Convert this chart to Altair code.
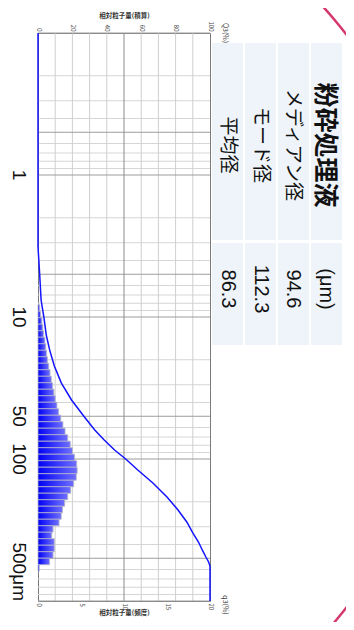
import math
import altair as alt
import pandas as pd

# ---------------- data ----------------
# histogram channels: centre particle size (um) and frequency q3 (%)
bar_size = [8.64, 9.60, 10.67, 11.86, 13.17, 14.64, 16.27, 18.07, 20.08, 22.31,
            24.79, 27.55, 30.61, 34.01, 37.79, 41.99, 46.66, 51.84, 57.60, 64.00,
            71.12, 79.02, 87.80, 97.57, 108.4, 120.4, 133.8, 148.7, 165.2, 183.6,
            204.0, 226.7, 251.9, 279.9, 311.0, 345.6, 384.0, 426.6, 474.1, 526.7,
            585.2]
bar_q3 = [0.2, 0.3, 0.45, 0.55, 0.65, 0.8, 0.9, 1.0, 1.1, 1.25,
          1.4, 1.55, 1.7, 1.85, 2.0, 2.2, 2.4, 2.65, 2.9, 3.15,
          3.45, 3.75, 4.0, 4.25, 4.5, 4.55, 4.45, 4.15, 3.8, 3.45,
          3.1, 2.85, 2.7, 2.45, 1.75, 1.6, 1.9, 1.9, 1.75, 1.35,
          0.15]

# cumulative curve Q3 (%)
cum_size = [0.1, 3.2, 5.06, 7.59, 10.2, 13.39, 17.1, 22.14, 29.2, 38.41, 50.6,
            62.48, 73.5, 86.44, 100, 119.5, 147.6, 185.2, 228.6, 277.8, 331.7,
            384.1, 437, 489.9, 531, 567, 1000]
cum_Q3 = [0, 0, 1.0, 1.8, 3.5, 4.8, 6.8, 9.5, 13.6, 19.5, 27,
          33, 38.5, 44.5, 51, 58, 66.8, 75, 81.4, 86.5, 90,
          93.3, 95.5, 97.6, 99.2, 100, 100]

# axes
size_ticks = [0.1, 0.5, 1, 5, 10, 50, 100, 500, 1000]
size_minor = [0.2, 0.3, 0.4, 0.6, 0.7, 0.8, 0.9,
              2, 3, 4, 6, 7, 8, 9,
              20, 30, 40, 60, 70, 80, 90,
              200, 300, 400, 600, 700, 800, 900]
Q3_ticks = [0, 20, 40, 60, 80, 100]
Q3_grid = [10, 20, 30, 40, 60, 70, 80, 90]
Q3_major = [50]
q3_ticks = [0, 5, 10, 15, 20]
big_vals = [1, 10, 50, 100, 500]
big_text = ["1", "10", "50", "100", "500"]

# table
tbl_cols = ["平均径", "モード径", "メディアン径", "粉砕処理液"]
tbl_values = ["86.3", "112.3", "94.6", "(μm)"]

# ---------------- build ----------------
edges = []
for i, c in enumerate(bar_size):
    lo = math.sqrt(c * bar_size[i - 1]) if i > 0 else c * math.sqrt(bar_size[0] / bar_size[1])
    hi = math.sqrt(c * bar_size[i + 1]) if i < len(bar_size) - 1 else c * math.sqrt(bar_size[-1] / bar_size[-2])
    edges.append((lo, hi))
bars_df = pd.DataFrame({"lo": [e[0] for e in edges], "hi": [e[1] for e in edges],
                        "q3": bar_q3, "zero": [0] * len(bar_q3)})
cum_df = pd.DataFrame({"size": cum_size, "Q3": cum_Q3})

W, H = 172, 568
ysc = alt.Scale(type="log", domain=[0.1, 1000], reverse=True, nice=False)
F_SMALL = "Noto Sans CJK JP"
F_NUM = "Liberation Sans, Noto Sans CJK JP"

yaxis = alt.Axis(values=size_ticks, format="~g", labelAngle=90, labelAlign="center",
                 labelBaseline="top", labelPadding=3, ticks=False, domain=False, grid=False,
                 labelFontSize=6, labelColor="#444", labelFont=F_SMALL,
                 title="粒子径(μm)", titleAngle=90, titleX=-10, titleY=280,
                 titleAlign="center", titleBaseline="middle", titleFontSize=5,
                 titleFontWeight="normal", titleColor="#555", titleFont=F_SMALL)

ring = alt.Chart(pd.DataFrame({"a": [0]})).mark_arc(
    innerRadius=467, outerRadius=469.5, theta=0, theta2=6.2832, color="#d6386c"
).encode(x=alt.value(-62), y=alt.value(288))

hminor = alt.Chart(pd.DataFrame({"s": size_minor})).mark_rule(color="#d6d6d6", strokeWidth=1).encode(
    y=alt.Y("s:Q", scale=ysc, axis=None))
hmajor = alt.Chart(pd.DataFrame({"s": size_ticks})).mark_rule(color="#9c9c9c", strokeWidth=1).encode(
    y=alt.Y("s:Q", scale=ysc, axis=yaxis))
vgrid = alt.Chart(pd.DataFrame({"v": Q3_grid})).mark_rule(color="#cfcfcf", strokeWidth=1).encode(
    x=alt.X("v:Q", scale=alt.Scale(domain=[0, 100], nice=False), axis=None))
vmajor = alt.Chart(pd.DataFrame({"v": Q3_major})).mark_rule(color="#8c8c8c", strokeWidth=1).encode(
    x=alt.X("v:Q", scale=alt.Scale(domain=[0, 100], nice=False), axis=None))

grad = alt.LinearGradient(gradient="linear",
                          stops=[alt.GradientStop(color="#0000f5", offset=0),
                                 alt.GradientStop(color="#6f6fff", offset=1)],
                          x1=0, x2=1, y1=0, y2=0)
bars = alt.Chart(bars_df).mark_rect(color=grad, stroke="#b4b4c8", strokeWidth=0.8).encode(
    x=alt.X("q3:Q", scale=alt.Scale(domain=[0, 20], nice=False),
            axis=alt.Axis(orient="bottom", values=q3_ticks, labelAngle=90, labelAlign="left",
                          labelBaseline="middle", labelPadding=2, ticks=False, domain=False,
                          grid=False, labelFontSize=6, labelColor="#444", labelFont=F_SMALL,
                          title="相対粒子量(頻度)", titleX=86, titleY=11, titleAngle=0,
                          titleAlign="center", titleBaseline="middle", titleFontSize=6.5,
                          titleColor="#333", titleFont=F_SMALL)),
    x2="zero:Q",
    y=alt.Y("lo:Q", scale=ysc, axis=None),
    y2="hi:Q")

line = alt.Chart(cum_df).mark_line(color="#1414ff", strokeWidth=1.5).encode(
    x=alt.X("Q3:Q", scale=alt.Scale(domain=[0, 100], nice=False),
            axis=alt.Axis(orient="top", values=Q3_ticks, labelAngle=90, labelAlign="right",
                          labelBaseline="middle", labelPadding=2, ticks=False, domain=False,
                          grid=False, labelFontSize=6, labelColor="#444", labelFont=F_SMALL,
                          title="相対粒子量(積算)", titleX=86, titleY=-18, titleAngle=0,
                          titleAlign="center", titleBaseline="middle", titleFontSize=6.5,
                          titleColor="#333", titleFont=F_SMALL)),
    y=alt.Y("size:Q", scale=ysc, axis=None),
    order=alt.Order("size:Q"))

big = alt.Chart(pd.DataFrame({"s": big_vals, "t": big_text})).mark_text(
    angle=90, align="center", baseline="alphabetic", fontSize=19, font=F_NUM, color="#111"
).encode(y=alt.Y("s:Q", scale=ysc, axis=None), x=alt.value(-25), text="t:N")
micro = alt.Chart(pd.DataFrame({"s": [500], "t": ["μm"]})).mark_text(
    angle=90, align="left", baseline="alphabetic", dx=16, fontSize=19, font=F_NUM, color="#111"
).encode(y=alt.Y("s:Q", scale=ysc, axis=None), x=alt.value(-25), text="t:N")

qlab = alt.Chart(pd.DataFrame({"t": ["Q3(%)", "q3(%)"], "yy": [0, 572]})).mark_text(
    angle=90, align="center", baseline="middle", fontSize=7, font=F_SMALL, color="#444"
).encode(x=alt.value(187), y=alt.Y("yy:Q", scale=None), text="t:N")

tx = alt.Scale(type="band", domain=tbl_cols, range=[174, 304], paddingInner=0.06, paddingOuter=0)
cell_df = pd.DataFrame({"col": tbl_cols, "val": tbl_values})
cells_a = alt.Chart(cell_df).mark_rect(color="#eef4f9").encode(
    x=alt.X("col:N", scale=tx, axis=None), y=alt.value(10), y2=alt.value(207))
cells_b = alt.Chart(cell_df).mark_rect(color="#eef4f9").encode(
    x=alt.X("col:N", scale=tx, axis=None), y=alt.value(210), y2=alt.value(312))
lab_txt = alt.Chart(cell_df.iloc[:3]).mark_text(
    angle=90, align="center", baseline="middle", fontSize=19, font=F_SMALL, color="#111"
).encode(x=alt.X("col:N", scale=tx, axis=None, bandPosition=0.5), y=alt.value(112), text="col:N")
head_txt = alt.Chart(cell_df.iloc[3:]).mark_text(
    angle=90, align="center", baseline="middle", fontSize=25, fontWeight="bold", font=F_SMALL,
    color="#111", dy=1
).encode(x=alt.X("col:N", scale=tx, axis=None, bandPosition=0.5), y=alt.value(112), text="col:N")
val_txt = alt.Chart(cell_df).mark_text(
    angle=90, align="center", baseline="middle", fontSize=20, font=F_NUM, color="#111"
).encode(x=alt.X("col:N", scale=tx, axis=None, bandPosition=0.5), y=alt.value(256), text="val:N")

chart = alt.layer(
    ring, cells_a, cells_b, hminor, vgrid, hmajor, vmajor, bars, line, big, micro, qlab,
    lab_txt, head_txt, val_txt
).resolve_scale(x="independent").properties(
    width=W, height=H,
    autosize=alt.AutoSizeParams(type="none"),
    padding={"left": 30, "top": 25, "right": 136, "bottom": 21},
).configure_view(stroke="#7a7a7a", strokeWidth=1)

chart.save("out.html", embed_options={"renderer": "svg", "actions": False})
